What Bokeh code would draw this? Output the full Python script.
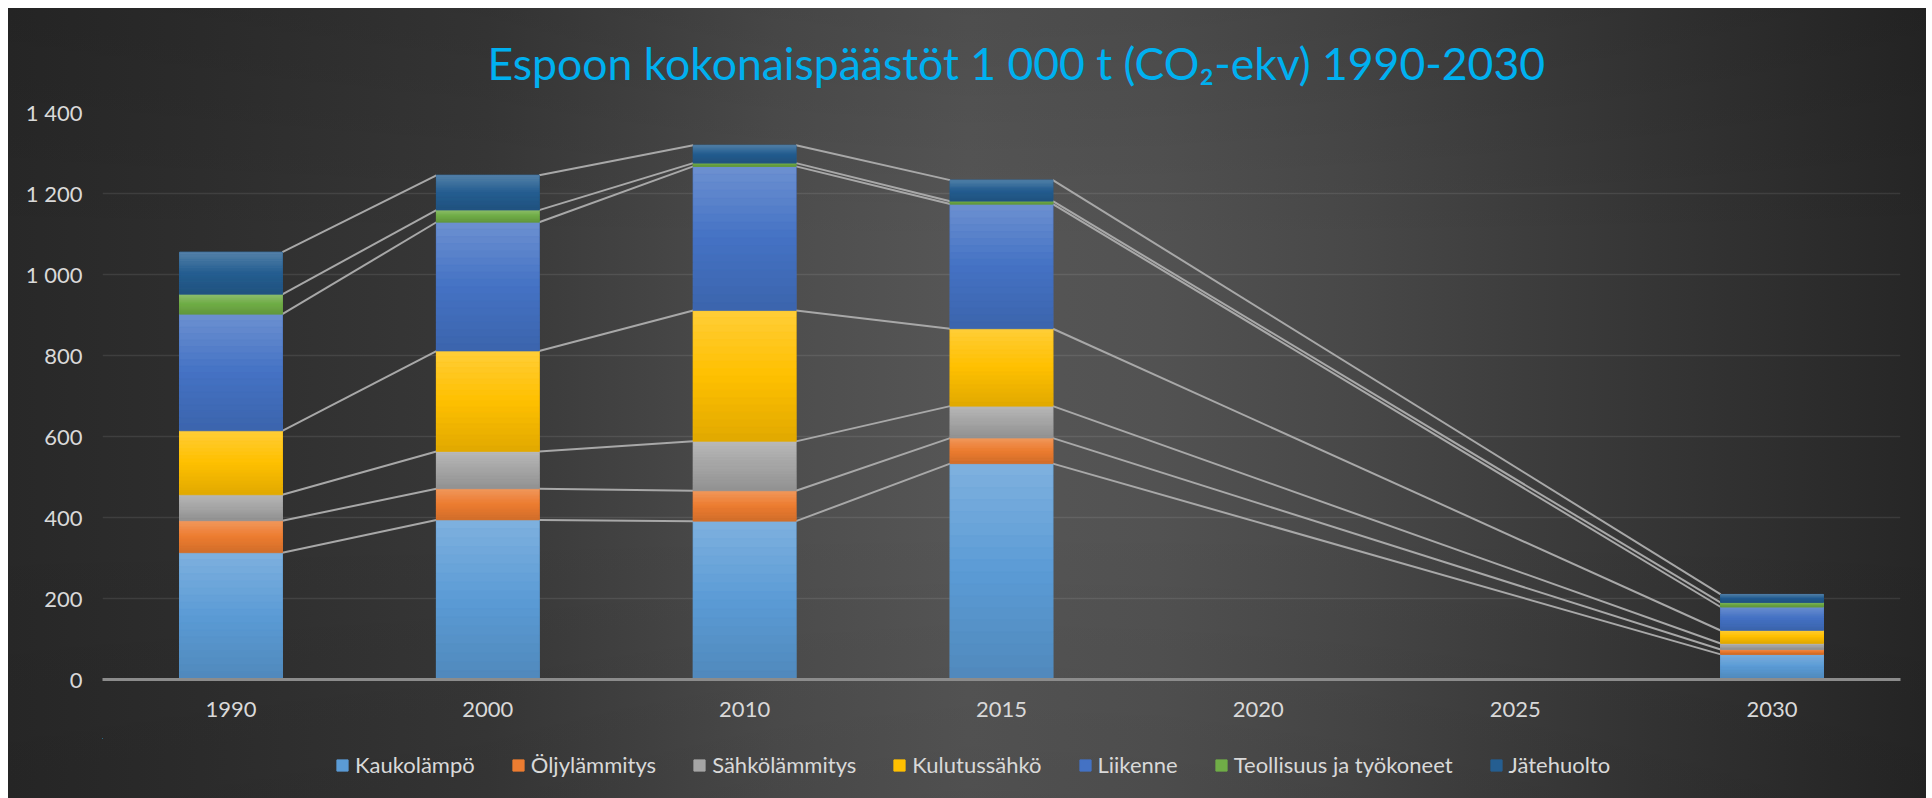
import numpy as np
from bokeh.plotting import figure
from bokeh.layouts import column
from bokeh.models import ColumnDataSource, FixedTicker, Legend, LegendItem, Range1d
from bokeh.embed import file_html
from bokeh.resources import INLINE

# ---------------- data ----------------
title_text = "Espoon kokonaispäästöt 1 000 t (CO₂-ekv) 1990-2030"
categories = ["1990", "2000", "2010", "2015", "2020", "2025", "2030"]
data_years = ["1990", "2000", "2010", "2015", "2030"]
series = ["Kaukolämpö", "Öljylämmitys", "Sähkölämmitys", "Kulutussähkö",
          "Liikenne", "Teollisuus ja työkoneet", "Jätehuolto"]
kaukolampo    = [313, 394, 391, 533, 62]
oljylammitys  = [79, 77, 75, 63, 12]
sahkolammitys = [64, 92, 122, 79, 15]
kulutussahko  = [158, 248, 323, 191, 32]
liikenne      = [288, 318, 356, 308, 58]
teollisuus    = [49, 30, 8, 7, 11]
jatehuolto    = [104, 86, 44, 52, 20]
values = [kaukolampo, oljylammitys, sahkolammitys, kulutussahko,
          liikenne, teollisuus, jatehuolto]
y_ticks = [0, 200, 400, 600, 800, 1000, 1200, 1400]
y_tick_labels = ["0", "200", "400", "600", "800", "1 000", "1 200", "1 400"]

# ---------------- style ----------------
colors = ["#5B9BD5", "#ED7D31", "#A5A5A5", "#FFC000", "#4472C4", "#70AD47", "#255E91"]
FONT = "Lato"
TXT = "#d9d9d9"
bar_width = 0.4
W = 1918

p = figure(width=W, height=730, output_backend="svg", toolbar_location=None,
           x_range=Range1d(-0.5, len(categories) - 0.5), y_range=Range1d(0, 1400),
           min_border_left=94, min_border_right=26, min_border_top=104, min_border_bottom=59)
p.border_fill_alpha = 0
p.background_fill_alpha = 0
p.outline_line_color = None

# title
p.title.text = title_text
p.title.text_font = FONT
p.title.text_font_size = "44.5px"
p.title.text_font_style = "normal"
p.title.text_color = "#00B0F0"
p.title.align = "left"
p.title.offset = 385
p.title.standoff = 47

# axes
pos = [categories.index(y) for y in data_years]
p.xaxis.ticker = FixedTicker(ticks=list(range(len(categories))))
p.xaxis.major_label_overrides = {i: c for i, c in enumerate(categories)}
p.xaxis.axis_line_color = "#8c8c8c"
p.xaxis.axis_line_width = 3
p.xaxis.major_tick_line_color = None
p.xaxis.minor_tick_line_color = None
p.xaxis.major_label_standoff = 16
p.yaxis.ticker = FixedTicker(ticks=y_ticks)
p.yaxis.major_label_overrides = {t: l for t, l in zip(y_ticks, y_tick_labels)}
p.yaxis.axis_line_color = None
p.yaxis.major_tick_line_color = None
p.yaxis.minor_tick_line_color = None
p.yaxis.major_label_standoff = 14
for ax in (p.xaxis, p.yaxis):
    ax.major_label_text_font = FONT
    ax.major_label_text_font_size = "22px"
    ax.major_label_text_color = TXT
p.xgrid.grid_line_color = None
p.ygrid.grid_line_color = "#ffffff"
p.ygrid.grid_line_alpha = 0.09
p.ygrid.grid_line_width = 1.5

# series lines (between consecutive bars)
cum = np.cumsum(np.array(values, dtype=float), axis=0)
x0, y0, x1, y1 = [], [], [], []
for s in range(len(series)):
    for k in range(len(pos) - 1):
        x0.append(pos[k] + bar_width / 2)
        y0.append(cum[s, k])
        x1.append(pos[k + 1] - bar_width / 2)
        y1.append(cum[s, k + 1])
p.segment(x0=x0, y0=y0, x1=x1, y1=y1, line_color="#a8a8a8", line_width=2)

# stacked bars
src = ColumnDataSource(dict(x=pos, **{s: v for s, v in zip(series, values)}))
p.vbar_stack(series, x="x", width=bar_width, source=src, color=colors)


# gradient shading per segment
def h2r(h):
    h = h.lstrip("#")
    return np.array([int(h[i:i + 2], 16) for i in (0, 2, 4)], dtype=float)


def r2h(c):
    c = np.clip(np.round(c), 0, 255).astype(int)
    return "#%02x%02x%02x" % tuple(c)


N = 18
ql, qr, qb, qt, qc = [], [], [], [], []
for s in range(len(series)):
    base = h2r(colors[s])
    top_c = base + (255 - base) * 0.22
    bot_c = base * 0.88
    for k in range(len(pos)):
        b = cum[s, k] - values[s][k]
        t = cum[s, k]
        for i in range(N):
            f = (i + 0.5) / N
            if f < 0.5:
                c = top_c + (base - top_c) * (f / 0.5)
            else:
                c = base + (bot_c - base) * ((f - 0.5) / 0.5)
            ql.append(pos[k] - bar_width / 2)
            qr.append(pos[k] + bar_width / 2)
            qt.append(t - (t - b) * i / N)
            qb.append(t - (t - b) * (i + 1) / N)
            qc.append(r2h(c))
p.quad(left=ql, right=qr, bottom=qb, top=qt, fill_color=qc, line_color=qc, line_width=0.6)

# legend strip below the chart (its bar renderers lie outside its visible range)
p2 = figure(width=W, height=60, output_backend="svg", toolbar_location=None,
            x_range=Range1d(100, 101), y_range=Range1d(-200, -100),
            x_axis_type=None, y_axis_type=None, min_border=0)
p2.border_fill_alpha = 0
p2.background_fill_alpha = 0
p2.outline_line_color = None
p2.grid.grid_line_color = None
rs = p2.vbar_stack(series, x="x", width=bar_width, source=src, color=colors)
items = [LegendItem(label=s, renderers=[r]) for s, r in zip(series, rs)]
legend = Legend(items=items, orientation="horizontal", location=(233, 20),
                border_line_color=None, background_fill_alpha=0,
                label_text_color=TXT, label_text_font=FONT, label_text_font_size="22px",
                glyph_width=14, glyph_height=14, label_standoff=6, spacing=36,
                padding=0, margin=0)
p2.add_layout(legend, "center")

layout = column(p, p2, spacing=0, styles={
    "margin-left": "8px", "margin-top": "8px",
    "background": "linear-gradient(to bottom, rgba(0,0,0,0.10) 0%, rgba(0,0,0,0) 30%, rgba(0,0,0,0) 65%, rgba(0,0,0,0.08) 100%), "
                  "linear-gradient(to right, #282828 0%, #2e2e2e 10%, #383838 25%, #4d4d4d 40%, #565656 50%, #525252 60%, #484848 70%, #363636 85%, #262626 100%)"
})

open("out.html", "w").write(file_html(layout, INLINE))
